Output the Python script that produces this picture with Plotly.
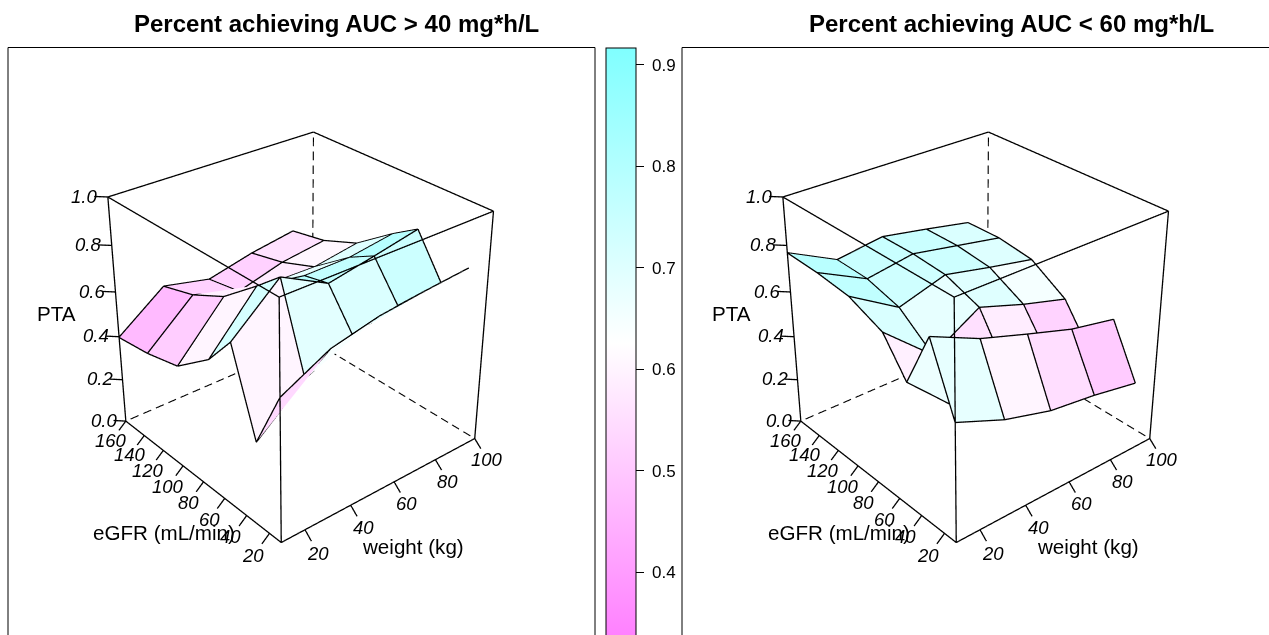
import math
import plotly.graph_objects as go

# ---- data -------------------------------------------------------------
weight = [10, 30, 50, 70, 90]
egfr = [10, 30, 50, 70, 100, 130, 160]
weight_ticks = [20, 40, 60, 80, 100]
egfr_ticks = [20, 40, 60, 80, 100, 120, 140, 160]
pta_ticks = [0.0, 0.2, 0.4, 0.6, 0.8, 1.0]
bar_ticks = [0.4, 0.5, 0.6, 0.7, 0.8, 0.9]

pta_over40_e10 = [.619, .722, .767, .789, .806]
pta_over40_e30 = [.365, .536, .632, .672, .691]
pta_over40_e50 = [.711, .888, .786, .823, .863]
pta_over40_e70 = [.578, .797, .763, .765, .794]
pta_over40_e100 = [.455, .670, .649, .645, .677]
pta_over40_e130 = [.417, .593, .531, .586, .613]
pta_over40_e160 = [.397, .548, .503, .550, .582]

pta_under60_e10 = [.518, .432, .374, .347, .309]
pta_under60_e30 = [.794, .701, .635, .572, .532]
pta_under60_e50 = [.548, .347, .459, .412, .353]
pta_under60_e70 = [.691, .510, .630, .563, .507]
pta_under60_e100 = [.750, .624, .686, .643, .604]
pta_under60_e130 = [.765, .663, .697, .661, .625]
pta_under60_e160 = [.769, .666, .696, .660, .621]

over40 = [pta_over40_e10, pta_over40_e30, pta_over40_e50, pta_over40_e70,
          pta_over40_e100, pta_over40_e130, pta_over40_e160]
under60 = [pta_under60_e10, pta_under60_e30, pta_under60_e50, pta_under60_e70,
           pta_under60_e100, pta_under60_e130, pta_under60_e160]

titles = ["Percent achieving AUC > 40 mg*h/L", "Percent achieving AUC < 60 mg*h/L"]

# ---- page geometry ----------------------------------------------------
W, H = 1269, 1077
TOP = 216            # page is shifted up so the optical axis meets the box centre
FONT = "Liberation Sans"
px = lambda X: X / W
py = lambda Y: 1 - (Y + TOP) / H

cm_scale = [[0, "#FF80FF"], [0.5, "#FFFFFF"], [1, "#80FFFF"]]
CMIN, CMAX = 0.336, 0.917

AZ = math.radians(50.0)   # horizontal bearing of the eye
EL = math.radians(30.0)
DIST = 5.0
PAD = 0.25
xr = [10, 100]
yr = [10, 160]
zr = [0.0, 1.0]
dx, dy, dz = 0.036 * 90, 0.036 * 150, 0.03
VIEW = (-math.cos(EL) * math.cos(AZ), -math.cos(EL) * math.sin(AZ), math.sin(EL))
LIFT = 0.006         # wire lines sit this far in front of the facets, so depth testing keeps them
DASH_PERIODS = 16    # dashes per hidden box edge
DASH_ON = 0.62


def seg(pairs):
    xs, ys, zs = [], [], []
    for a, b in pairs:
        xs += [a[0], b[0], None]
        ys += [a[1], b[1], None]
        zs += [a[2], b[2], None]
    return xs, ys, zs


def dashes(a, b):
    out = []
    for n in range(DASH_PERIODS):
        t0 = n / DASH_PERIODS
        t1 = (n + DASH_ON) / DASH_PERIODS
        out.append((tuple(a[k] + (b[k] - a[k]) * t0 for k in range(3)),
                    tuple(a[k] + (b[k] - a[k]) * t1 for k in range(3))))
    return out


fig = go.Figure()


def add_panel(rows, scene, color_shift, show_bar):
    nx, ny = len(weight), len(egfr)
    vx, vy, vz = [], [], []
    for j in range(ny):
        for i in range(nx):
            vx.append(weight[i]); vy.append(egfr[j]); vz.append(rows[j][i])
    I, J, K, cell = [], [], [], []
    for j in range(ny - 1):
        for i in range(nx - 1):
            a = j * nx + i; b = a + 1; c = a + nx; d = c + 1
            m = (vz[a] + vz[b] + vz[c] + vz[d]) / 4 + color_shift
            I += [a, b]; J += [b, d]; K += [c, c]; cell += [m, m]
    mesh = dict(
        x=vx, y=vy, z=vz, i=I, j=J, k=K, intensity=cell, intensitymode="cell",
        colorscale=cm_scale, cmin=CMIN, cmax=CMAX, flatshading=True,
        lighting=dict(ambient=1, diffuse=0, specular=0, fresnel=0, roughness=1),
        hoverinfo="skip", scene=scene, showscale=show_bar,
    )
    if show_bar:
        mesh["colorbar"] = dict(
            x=px(606), xanchor="left", xpad=0, y=py(47.5), yanchor="top", ypad=0,
            lenmode="pixels", len=589.5, thicknessmode="pixels", thickness=30,
            tickmode="array", tickvals=bar_ticks, ticktext=[f"\u00a0{t:.1f}" for t in bar_ticks],
            ticks="outside", ticklen=8, tickwidth=1, tickcolor="black",
            tickfont=dict(family=FONT, size=17, color="black"),
            outlinecolor="black", outlinewidth=1, borderwidth=0,
        )
    fig.add_trace(go.Mesh3d(**mesh))

    # wire lines
    lift = lambda i, j: (weight[i] + LIFT * VIEW[0] * 90, egfr[j] + LIFT * VIEW[1] * 150, rows[j][i] + LIFT * VIEW[2])
    pairs = []
    for j in range(ny):
        for i in range(nx):
            if i + 1 < nx:
                pairs.append((lift(i, j), lift(i + 1, j)))
            if j + 1 < ny:
                pairs.append((lift(i, j), lift(i, j + 1)))
    X, Y, Z = seg(pairs)
    line = dict(color="black", width=2.6)
    fig.add_trace(go.Scatter3d(x=X, y=Y, z=Z, mode="lines", line=line, scene=scene, hoverinfo="skip", showlegend=False))

    # box
    F = (xr[0], yr[0], zr[0]); R = (xr[1], yr[0], zr[0]); L = (xr[0], yr[1], zr[0]); B = (xr[1], yr[1], zr[0])
    TF = (xr[0], yr[0], zr[1]); TR = (xr[1], yr[0], zr[1]); TL = (xr[0], yr[1], zr[1]); TB = (xr[1], yr[1], zr[1])
    solid = [(F, R), (F, L), (F, TF), (L, TL), (R, TR), (TF, TR), (TF, TL), (TL, TB), (TR, TB)]
    # ticks
    ann = []
    fnt = dict(family=FONT, size=18.5, color="black")
    for w in weight_ticks:
        solid.append(((w, yr[0], 0), (w, yr[0] - dy, -dz)))
        ann.append(dict(x=w, y=yr[0] - 2.05 * dy, z=-2.05 * dz, text=f"<i>{w}</i>"))
    for e in egfr_ticks:
        solid.append(((xr[0], e, 0), (xr[0] - dx, e, -dz)))
        ann.append(dict(x=xr[0] - 2.05 * dx, y=e, z=-2.05 * dz, text=f"<i>{e}</i>"))
    for t in pta_ticks:
        solid.append(((xr[0], yr[1], t), (xr[0] - dx, yr[1] + dy, t)))
        ann.append(dict(x=xr[0] - 1.75 * dx, y=yr[1] + 1.75 * dy, z=t, text=f"<i>{t:.1f}</i>"))
    for a in ann:
        a.update(showarrow=False, xanchor="center", yanchor="middle", font=fnt)
    X, Y, Z = seg(solid)
    fig.add_trace(go.Scatter3d(x=X, y=Y, z=Z, mode="lines", line=line, scene=scene, hoverinfo="skip", showlegend=False))
    X, Y, Z = seg(dashes(B, L) + dashes(B, R) + dashes(B, TB))
    fig.add_trace(go.Scatter3d(x=X, y=Y, z=Z, mode="lines", line=dict(color="black", width=2.2),
                               scene=scene, hoverinfo="skip", showlegend=False))
    return ann


def scene_layout(ann, x0, x1):
    ax = dict(visible=False, showspikes=False, autorange=False)
    eye = dict(x=DIST * VIEW[0], y=DIST * VIEW[1], z=DIST * VIEW[2])
    return dict(
        domain=dict(x=[px(x0), px(x1)], y=[0, 1]),
        xaxis=dict(ax, range=[xr[0] - PAD * 90, xr[1] + PAD * 90]),
        yaxis=dict(ax, range=[yr[0] - PAD * 150, yr[1] + PAD * 150]),
        zaxis=dict(ax, range=[zr[0] - PAD, zr[1] + PAD]),
        aspectmode="manual",
        aspectratio=dict(x=1 + 2 * PAD, y=1 + 2 * PAD, z=1 + 2 * PAD),
        camera=dict(eye=eye, center=dict(x=0, y=0, z=0), up=dict(x=0, y=0, z=1),
                    projection=dict(type="perspective")),
        bgcolor="rgba(0,0,0,0)",
        annotations=ann,
    )


ann1 = add_panel(over40, "scene", -0.02, True)
ann2 = add_panel(under60, "scene2", 0.07, False)

annotations = []
for cx, title, shift in [(336.5, titles[0], 0), (1011.5, titles[1], 675)]:
    annotations.append(dict(x=px(cx), y=py(23), text=f"<b>{title}</b>", showarrow=False, xanchor="center", yanchor="middle",
                            font=dict(family=FONT, size=24, color="black")))
    for txt, X, Y in [("PTA", 56.5, 313), ("eGFR (mL/min)", 163.5, 532), ("weight (kg)", 413, 546)]:
        annotations.append(dict(x=px(X + shift), y=py(Y), text=txt, showarrow=False, xanchor="center", yanchor="middle",
                                font=dict(family=FONT, size=20.6, color="black")))
for a in annotations:
    a.update(xref="paper", yref="paper")

shapes = []
for X0, X1 in [(8, 595), (682, 1269.6)]:
    shapes.append(dict(type="rect", xref="paper", yref="paper", x0=px(X0), x1=px(X1), y0=py(47.5), y1=py(660),
                       line=dict(color="black", width=1), fillcolor="rgba(0,0,0,0)"))

fig.update_layout(
    width=W, height=H, margin=dict(l=0, r=0, t=0, b=0, autoexpand=False), paper_bgcolor="white",
    showlegend=False, annotations=annotations, shapes=shapes,
    scene=scene_layout(ann1, 4.7, 591.7), scene2=scene_layout(ann2, 679.7, 1266.7),
)

fig.write_html("out.html", config=dict(displayModeBar=False),
               post_script=f"document.body.style.margin='0';document.body.style.marginTop='-{TOP}px';"
                           "document.documentElement.style.overflow='hidden';document.body.style.background='white';")
